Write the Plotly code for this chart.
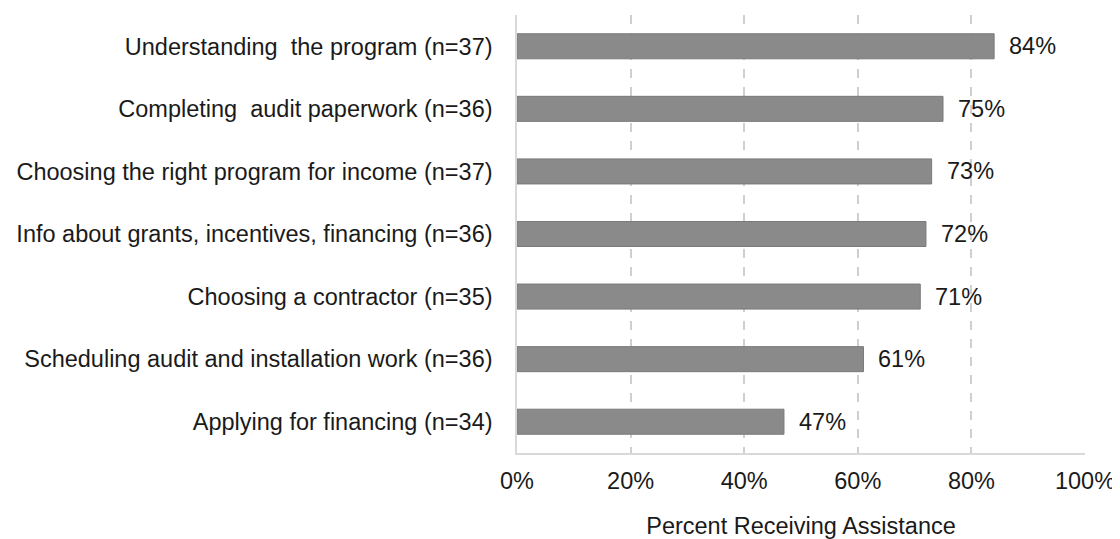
import plotly.graph_objects as go

categories = [
    "Understanding\u00a0 the program (n=37)",
    "Completing\u00a0 audit paperwork (n=36)",
    "Choosing the right program for income (n=37)",
    "Info about grants, incentives, financing (n=36)",
    "Choosing a contractor (n=35)",
    "Scheduling audit and installation work (n=36)",
    "Applying for financing (n=34)",
]
values = [84, 75, 73, 72, 71, 61, 47]
tick_vals = [0, 20, 40, 60, 80, 100]
tick_text = ["0%", "20%", "40%", "60%", "80%", "100%"]

FONT = "Liberation Sans, Arial, sans-serif"
FS = 23.5

fig = go.Figure()
fig.add_trace(go.Bar(
    x=values,
    y=categories,
    orientation='h',
    width=0.4,
    marker=dict(color='#8a8a8a', line=dict(color='#7a7a7a', width=1)),
    hoverinfo='x+y',
))

annotations = []
for c, v in zip(categories, values):
    annotations.append(dict(
        text=f"{v}%", x=v, y=c, xref='x', yref='y',
        xanchor='left', yanchor='middle', xshift=13,
        showarrow=False,
        font=dict(family=FONT, size=FS, color='#1a1a1a'),
    ))

# page body has an 8px margin, so the figure is sized to fit the window
fig.update_layout(
    width=1112, height=531,
    margin=dict(l=509, r=35, t=7, b=86),
    plot_bgcolor='white',
    paper_bgcolor='white',
    showlegend=False,
    annotations=annotations,
    font=dict(family=FONT, size=FS, color='#1a1a1a'),
    xaxis=dict(
        range=[0, 100],
        tickvals=tick_vals,
        ticktext=tick_text,
        showgrid=True,
        gridcolor='#cfcfcf',
        griddash='dash',
        gridwidth=1.5,
        zeroline=False,
        showline=True,
        linecolor='#d9d9d9',
        linewidth=1.5,
        ticks='',
        automargin=False,
        ticklabelstandoff=6,
        title=dict(text='Percent Receiving Assistance', standoff=34,
                   font=dict(family=FONT, size=FS, color='#1a1a1a')),
    ),
    yaxis=dict(
        autorange='reversed',
        showgrid=False,
        zeroline=False,
        showline=True,
        linecolor='#d9d9d9',
        linewidth=1.5,
        ticks='',
        automargin=False,
        ticklabelstandoff=18,
    ),
)

fig.write_html("out.html")
